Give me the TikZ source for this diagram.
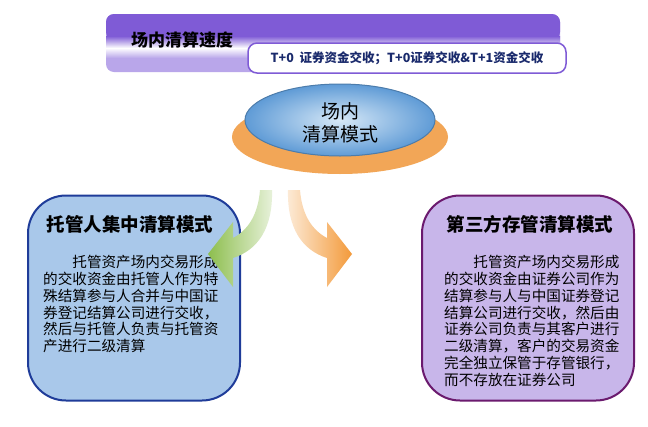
\documentclass[tikz,border=0pt]{standalone}
\usepackage{fontspec}
\setmainfont{Noto Sans CJK SC}
\usetikzlibrary{shapes.geometric}
\definecolor{bannerP}{HTML}{7F5BD6}
\definecolor{bannerL}{HTML}{B9A6EA}
\definecolor{navyT}{HTML}{1A2A6C}
\definecolor{lboxF}{HTML}{A9C8EA}
\definecolor{lboxD}{HTML}{1F3C99}
\definecolor{rboxF}{HTML}{C8B6EA}
\definecolor{rboxD}{HTML}{6B1A6E}
\definecolor{ellB}{HTML}{5F9BD6}
\definecolor{ellL}{HTML}{D6E8F7}
\definecolor{ellO}{HTML}{F2A657}
\definecolor{arrG}{HTML}{8DBE4E}
\definecolor{arrO}{HTML}{F39A3A}
\tikzset{
  mbox/.style={rounded corners=38pt,line width=2pt,minimum width=212pt,minimum height=205pt},
  boxtitle/.style={font=\bfseries\fontsize{18.5}{20}\selectfont,anchor=center},
  boxbody/.style={font=\fontsize{14.6}{16.8}\selectfont,align=left,anchor=north west,inner sep=0pt},
}
\begin{document}
\begin{tikzpicture}[x=1pt,y=-1pt]
\useasboundingbox[fill=white] (0,0) rectangle (648,426);
% banner
\path[fill=bannerL,rounded corners=8pt] (106,14) rectangle (560,72);
\path[fill=bannerP,rounded corners=8pt] (106,14) rectangle (560,40);
\shade[top color=bannerP,bottom color=white] (106,36) rectangle (560,48);
\shade[top color=white,bottom color=bannerL] (106,48) rectangle (560,58);
\node[font=\bfseries\fontsize{17}{19}\selectfont] (btitle) at (182,40) {场内清算速度};
\node[draw=bannerP,line width=1.5pt,fill=white,rounded corners=9pt,minimum width=318pt,minimum height=30pt,font=\bfseries\fontsize{12.5}{14}\selectfont,text=navyT] (bsub) at (407,58) {T+0\ \ 证券资金交收；T+0证券交收\&T+1资金交收};
% ellipse
\node[ellipse,fill=ellO,minimum width=216pt,minimum height=74pt] (base) at (340,137) {};
\node[ellipse,shade,inner color=ellL,outer color=ellB,draw=ellB!80!black,line width=1pt,minimum width=190pt,minimum height=72pt] (ell) at (340,120) {};
\node[font=\fontsize{19}{23}\selectfont,align=center] (elltext) at (340,123) {场内\\清算模式};
% boxes
\node[mbox,draw=lboxD,fill=lboxF] (lbox) at (134,298) {};
\node[mbox,draw=rboxD,fill=rboxF] (rbox) at (528,298) {};
\node[boxtitle] (ltitle) at (130,224) {托管人集中清算模式};
\node[boxtitle] (rtitle) at (530,224) {第三方存管清算模式};
\node[boxbody] (lbody) at (43,255) {\hspace*{2em}托管资产场内交易形成\\的交收资金由托管人作为特\\殊结算参与人合并与中国证\\券登记结算公司进行交收，\\然后与托管人负责与托管资\\产进行二级清算};
\node[boxbody] (rbody) at (444,255) {\hspace*{2em}托管资产场内交易形成\\的交收资金由证券公司作为\\结算参与人与中国证券登记\\结算公司进行交收，然后由\\证券公司负责与其客户进行\\二级清算，客户的交易资金\\完全独立保管于存管银行，\\而不存放在证券公司};
% arrows
\shade[left color=arrG,right color=arrG!20!white]
  (260,190) -- (272,190) .. controls (273,228) and (258,250) .. (233,258)
  -- (233,287) -- (208,254) -- (233,222) -- (233,238)
  .. controls (248,230) and (258,215) .. (260,190) -- cycle;
\shade[right color=arrO,left color=arrO!20!white]
  (300,190) -- (288,190) .. controls (287,228) and (302,250) .. (327,258)
  -- (327,287) -- (352,254) -- (327,222) -- (327,238)
  .. controls (312,230) and (302,215) .. (300,190) -- cycle;
\end{tikzpicture}
\end{document}
